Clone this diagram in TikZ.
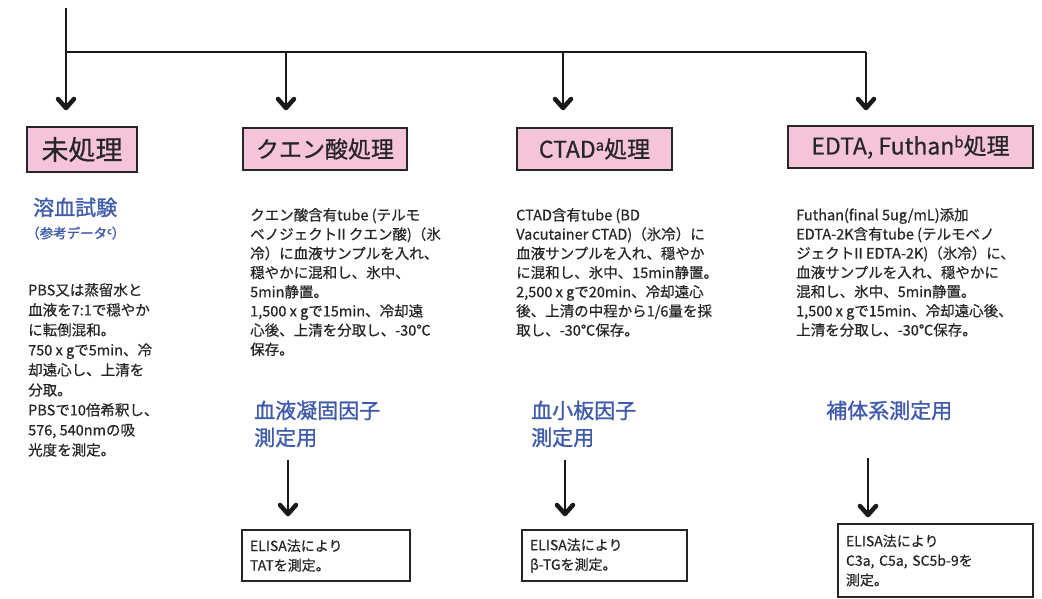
\documentclass[tikz,border=0pt]{standalone}
\usepackage{fontspec}
\setmainfont{Noto Sans CJK JP}
\newfontfamily\jpbold[FakeBold=1.2]{Noto Sans CJK JP}
\newfontfamily\jpsemi[FakeBold=0.6]{Noto Sans CJK JP}
\definecolor{pinkfill}{HTML}{F5C3DA}
\definecolor{headblue}{HTML}{3F5BAA}
\definecolor{bodytext}{HTML}{262626}
\tikzset{
  titlebox/.style={draw=black!85, line width=1.5pt, fill=pinkfill, inner sep=0pt,
    font=\jpsemi\fontsize{23}{26}\selectfont, text=black!85},
  bodytxt/.style={anchor=north west, align=left, inner sep=0pt,
    font=\jpsemi\fontsize{14.5}{19.2}\selectfont, text=bodytext},
  headtxt/.style={anchor=north west, align=left, inner sep=0pt,
    font=\jpbold\fontsize{21}{27}\selectfont, text=headblue},
  resultbox/.style={draw=black!85, line width=1.3pt, align=left, inner xsep=8pt, inner ysep=0pt,
    font=\jpsemi\fontsize{14}{19.5}\selectfont, text=bodytext},
  flowline/.style={line width=2.8pt, black!90},
  flowarrow/.style={flowline, shorten >=2pt},
  vhead/.pic={\draw[line width=4.5pt, black!90, line cap=round, line join=round] (-8,-10) -- (0,-1) -- (8,-10);}
}
\begin{document}
\begin{tikzpicture}[x=1pt,y=-1pt]
\useasboundingbox (0,0) rectangle (1042,598);

% top branching
\coordinate (top) at (66,8);
\coordinate (j1) at (66,52);
\coordinate (j2) at (286,52);
\coordinate (j3) at (563,52);
\coordinate (j4) at (866,52);
\coordinate (a1) at (66,109);
\coordinate (a2) at (286,109);
\coordinate (a3) at (563,109);
\coordinate (a4) at (866,109);
\draw[flowline] (top) -- (j1);
\draw[flowline] (j1) -- (j4);
\draw[flowarrow] (j1) -- (a1);
\draw[flowarrow] (j2) -- (a2);
\draw[flowarrow] (j3) -- (a3);
\draw[flowarrow] (j4) -- (a4);
\foreach \c in {a1,a2,a3,a4} \pic at (\c) {vhead};

% title boxes
\node[titlebox, minimum width=110pt, minimum height=45pt, font=\jpsemi\fontsize{27}{30}\selectfont] (t1) at (82,149.5) {未処理};
\node[titlebox, minimum width=164pt, minimum height=42pt] (t2) at (325,149) {クエン酸処理};
\node[titlebox, minimum width=155pt, minimum height=42pt] (t3) at (594.5,149) {CTAD{\fontsize{15}{15}\selectfont\raisebox{7pt}{a}}処理};
\node[titlebox, minimum width=245pt, minimum height=42pt] (t4) at (910.5,147) {EDTA, Futhan{\fontsize{15}{15}\selectfont\raisebox{7pt}{b}}処理};

% column 1
\node[headtxt] (h1) at (33,197.5) {溶血試験};
\node[headtxt, font=\jpbold\fontsize{13.5}{16}\selectfont] (h1b) at (26,226.5) {（参考データ{\fontsize{9}{9}\selectfont\raisebox{4pt}{c}}）};
\node[bodytxt, font=\jpsemi\fontsize{14.5}{20}\selectfont] (b1) at (28,283) {PBS又は蒸留水と\\血液を7:1で穏やか\\に転倒混和。\\750 x gで5min、冷\\却遠心し、上清を\\分取。\\PBSで10倍希釈し、\\576, 540nmの吸\\光度を測定。};

% column 2
\node[bodytxt] (b2) at (250,208) {クエン酸含有tube (テルモ\\ベノジェクトII クエン酸)（氷\\冷）に血液サンプルを入れ、\\穏やかに混和し、氷中、\\5min静置。\\1,500 x gで15min、冷却遠\\心後、上清を分取し、-30℃\\保存。};
\node[headtxt] (h2) at (254,400.5) {血液凝固因子\\測定用};

% column 3
\node[bodytxt] (b3) at (516,208) {CTAD含有tube (BD\\Vacutainer CTAD)（氷冷）に\\血液サンプルを入れ、穏やか\\に混和し、氷中、15min静置。\\2,500 x gで20min、冷却遠心\\後、上清の中程から1/6量を採\\取し、-30℃保存。};
\node[headtxt] (h3) at (531,400.5) {血小板因子\\測定用};

% column 4
\node[bodytxt] (b4) at (796,208) {Futhan(final 5ug/mL)添加\\EDTA-2K含有tube (テルモベノ\\ジェクトII EDTA-2K)（氷冷）に、\\血液サンプルを入れ、穏やかに\\混和し、氷中、5min静置。\\1,500 x gで15min、冷却遠心後、\\上清を分取し、-30℃保存。};
\node[headtxt] (h4) at (826,400.5) {補体系測定用};

% lower arrows
\coordinate (s2) at (288,460);
\coordinate (e2) at (288,515);
\coordinate (s3) at (565,460);
\coordinate (e3) at (565,515);
\coordinate (s4) at (868,458);
\coordinate (e4) at (868,516);
\draw[flowarrow] (s2) -- (e2);
\draw[flowarrow] (s3) -- (e3);
\draw[flowarrow] (s4) -- (e4);
\foreach \c in {e2,e3,e4} \pic at (\c) {vhead};

% result boxes
\node[resultbox, text width=152pt, minimum height=51pt] (r2) at (326,555.5) {ELISA法により\\TATを測定。};
\node[resultbox, text width=149pt, minimum height=51pt] (r3) at (604.5,555.5) {ELISA法により\\β-TGを測定。};
\node[resultbox, text width=179pt, minimum height=73pt] (r4) at (935.5,560.5) {ELISA法により\\C3a, C5a, SC5b-9を\\測定。};
\end{tikzpicture}
\end{document}
